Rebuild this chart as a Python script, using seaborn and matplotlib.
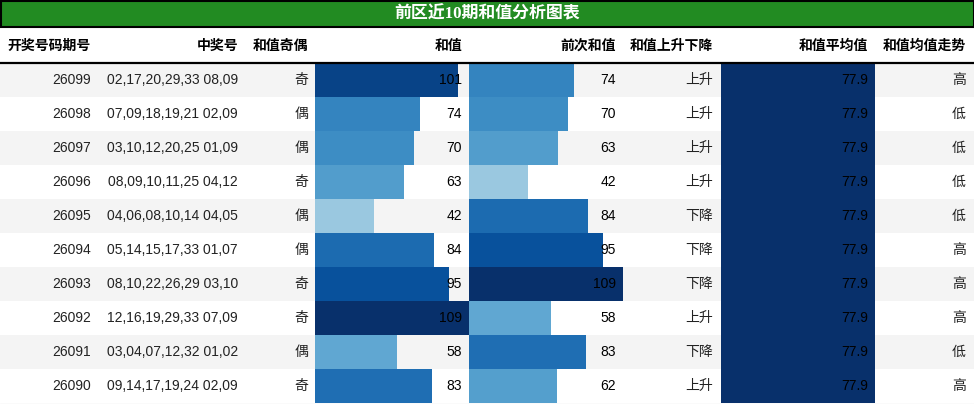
import matplotlib
matplotlib.use("Agg")
import matplotlib.pyplot as plt
import seaborn as sns

sns.set_theme(style="white")
plt.rcParams['font.family'] = ['Liberation Sans', 'Noto Sans CJK SC', 'DejaVu Sans']

title = "前区近10期和值分析图表"
headers = ["开奖号码期号", "中奖号", "和值奇偶", "和值", "前次和值", "和值上升下降", "和值平均值", "和值均值走势"]
periods = ["26099", "26098", "26097", "26096", "26095", "26094", "26093", "26092", "26091", "26090"]
numbers = ["02,17,20,29,33 08,09", "07,09,18,19,21 02,09", "03,10,12,20,25 01,09",
           "08,09,10,11,25 04,12", "04,06,08,10,14 04,05", "05,14,15,17,33 01,07",
           "08,10,22,26,29 03,10", "12,16,19,29,33 07,09", "03,04,07,12,32 01,02",
           "09,14,17,19,24 02,09"]
parity = ["奇", "偶", "偶", "奇", "偶", "偶", "奇", "奇", "偶", "奇"]
sums = [101, 74, 70, 63, 42, 84, 95, 109, 58, 83]
prev_sums = [74, 70, 63, 42, 84, 95, 109, 58, 83, 62]
trend = ["上升", "上升", "上升", "上升", "下降", "下降", "下降", "上升", "下降", "上升"]
avg = [77.9] * 10
avg_trend = ["高", "低", "低", "低", "低", "高", "高", "高", "低", "高"]

W, H = 974, 404
fig = plt.figure(figsize=(W / 100, H / 100), dpi=100)
ax = fig.add_axes([0, 0, 1, 1])
ax.set_xlim(0, W)
ax.set_ylim(H, 0)
ax.axis("off")

title_h = 26
header_bottom = 62.5
row_top = 63
row_h = 34
n = len(periods)

# stripes
for i in range(n):
    if i % 2 == 0:
        ax.axhspan(row_top + i * row_h, row_top + (i + 1) * row_h, color="#f4f4f4", lw=0, zorder=0)

# bar columns
bar_cols = [(315, 154, sums, max(sums)), (469, 154, prev_sums, max(prev_sums)), (721, 154, avg, max(avg))]
cmap = plt.get_cmap("Blues")
for x0, w, vals, vmax in bar_cols:
    bax = fig.add_axes([x0 / W, (H - (row_top + n * row_h)) / H, w / W, n * row_h / H])
    bax.patch.set_alpha(0)
    pal = {p: cmap(v / vmax) for p, v in zip(periods, vals)}
    sns.barplot(x=vals, y=periods, hue=periods, palette=pal, orient="h", width=1.0,
                legend=False, ax=bax, linewidth=0, saturation=1)
    bax.set_xlim(0, vmax)
    bax.set_ylim(n - 0.5, -0.5)
    bax.axis("off")

# overlay for text and lines
tax = fig.add_axes([0, 0, 1, 1])
tax.set_xlim(0, W)
tax.set_ylim(H, 0)
tax.axis("off")
tax.patch.set_alpha(0)

tax.add_patch(plt.Rectangle((0.5, 0.5), W - 1, title_h, facecolor="#228B22", edgecolor="black", lw=1.5, zorder=2))
tax.text(W / 2, title_h / 2 + 1, title, color="white", fontsize=12.2, fontweight="bold",
         ha="center", va="center", family=['Liberation Serif', 'Noto Sans CJK SC'], zorder=3)
tax.axhline(header_bottom, color="black", lw=1.6, zorder=3)
tax.axhline(row_top + n * row_h + 0.5, color="#e6e6e6", lw=1, zorder=3)

col_right = [91, 238, 308, 462, 616, 713, 868, 966]
header_y = 46
for h, xr in zip(headers, col_right):
    tax.text(xr, header_y, h, ha="right", va="center", fontsize=10, fontweight="bold", color="black")

texts_cols = [periods, numbers, parity, [str(v) for v in sums], [str(v) for v in prev_sums],
              trend, [f"{v:.1f}" for v in avg], avg_trend]
for ci, (col, xr) in enumerate(zip(texts_cols, col_right)):
    for i, t in enumerate(col):
        y = row_top + (i + 0.5) * row_h
        color = "black" if ci in (3, 4, 6) else "#222222"
        tax.text(xr, y, t, ha="right", va="center", fontsize=10, color=color, zorder=5)

fig.savefig("out.png", dpi=100)
